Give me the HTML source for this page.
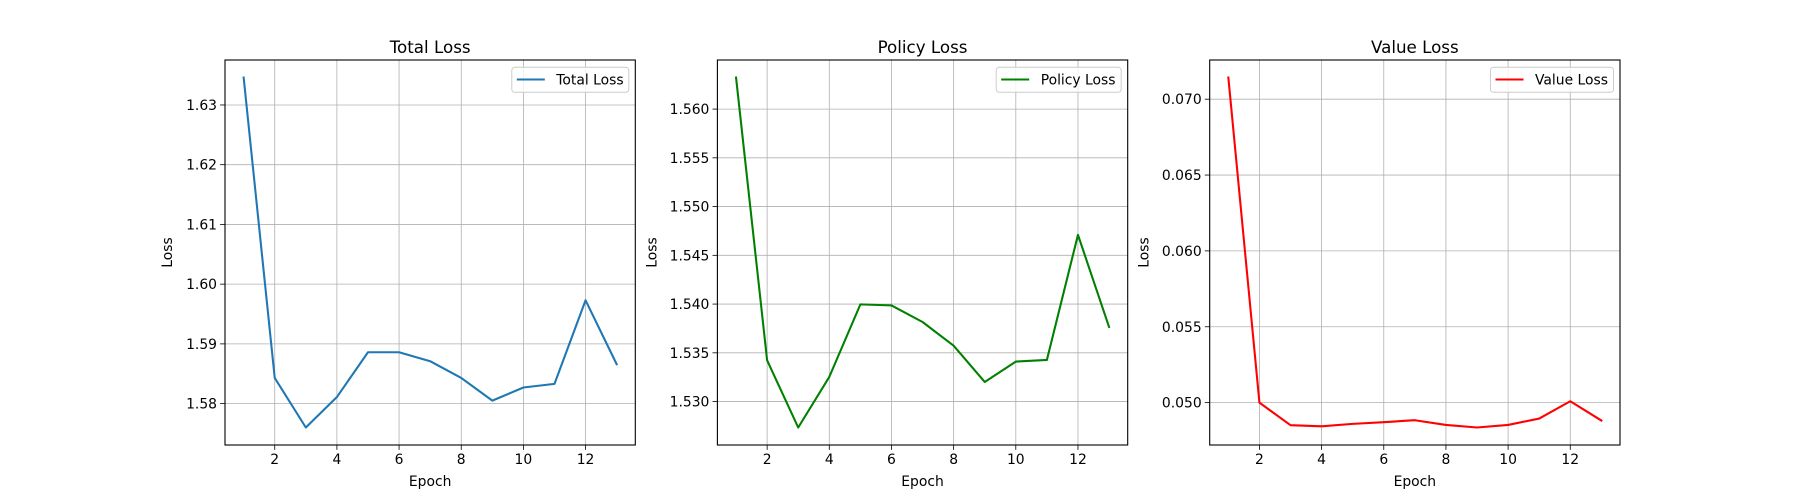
<!DOCTYPE html>
<html><head><meta charset="utf-8"><style>
html,body{margin:0;padding:0;background:#fff;}
svg{display:block;font-family:"DejaVu Sans","Liberation Sans",sans-serif;}
</style></head><body>
<svg id="fig" width="1800" height="500" viewBox="0 0 1800 500" xmlns="http://www.w3.org/2000/svg"></svg>
<script>
const epochs = [1,2,3,4,5,6,7,8,9,10,11,12,13];
const totalLoss = [1.6346,1.5843,1.5760,1.5811,1.5886,1.5886,1.5871,1.5843,1.5805,1.5827,1.5833,1.5973,1.5866];
const policyLoss = [1.56324,1.53423,1.52734,1.53253,1.53997,1.53986,1.53816,1.53573,1.53201,1.53410,1.53427,1.54710,1.53765];
const valueLoss = [0.07143,0.0500,0.04851,0.04844,0.04860,0.04871,0.04884,0.04853,0.04836,0.04853,0.04895,0.05009,0.04882];
const xTicks = [2,4,6,8,10,12];
const totalTicks = [1.58,1.59,1.60,1.61,1.62,1.63];
const policyTicks = [1.530,1.535,1.540,1.545,1.550,1.555,1.560];
const valueTicks = [0.050,0.055,0.060,0.065,0.070];
const titles = ["Total Loss","Policy Loss","Value Loss"];

const NS="http://www.w3.org/2000/svg";
const svg=document.getElementById('fig');
function mk(tag,attrs,parent){const e=document.createElementNS(NS,tag);for(const k in attrs)e.setAttribute(k,attrs[k]);(parent||svg).appendChild(e);return e;}

const panels=[
 {key:'total',data:totalLoss,ticks:totalTicks,dec:2,color:'#1f77b4',left:225,legW:117},
 {key:'policy',data:policyLoss,ticks:policyTicks,dec:3,color:'#008000',left:717.4,legW:125},
 {key:'value',data:valueLoss,ticks:valueTicks,dec:3,color:'#ff0000',left:1209.7,legW:123}
];
const W=410.3,axTop=60,axBot=445,H=axBot-axTop;

panels.forEach((p,i)=>{
  const g=mk('g',{});
  
  
  const xmin=Math.min(...epochs),xmax=Math.max(...epochs),xm=(xmax-xmin)*0.05;
  const ymin=Math.min(...p.data),ymax=Math.max(...p.data),ym=(ymax-ymin)*0.05;
  const X=v=>p.left+(v-(xmin-xm))/((xmax+xm)-(xmin-xm))*W;
  const Y=v=>axBot-(v-(ymin-ym))/((ymax+ym)-(ymin-ym))*H;
  xTicks.forEach(t=>{
    const l=mk('line',{x1:X(t),x2:X(t),y1:axTop,y2:axBot,stroke:'#b0b0b0','stroke-width':0.8},g);
    
    
    mk('line',{x1:X(t),x2:X(t),y1:axBot,y2:axBot+4.9,stroke:'#000','stroke-width':0.8},g);
    const tx=mk('text',{x:X(t),y:axBot+19,'font-size':13.9,'text-anchor':'middle',fill:'#000'},g);
    tx.textContent=t;
    
    
  });
  p.ticks.forEach(t=>{
    const l=mk('line',{x1:p.left,x2:p.left+W,y1:Y(t),y2:Y(t),stroke:'#b0b0b0','stroke-width':0.8},g);
    
    
    mk('line',{x1:p.left-4.9,x2:p.left,y1:Y(t),y2:Y(t),stroke:'#000','stroke-width':0.8},g);
    const tx=mk('text',{x:p.left-8,y:Y(t)+5,'font-size':13.9,'text-anchor':'end',fill:'#000'},g);
    tx.textContent=t.toFixed(p.dec);
    
    
  });
  const pts=epochs.map((e,j)=>X(e).toFixed(2)+','+Y(p.data[j]).toFixed(2)).join(' ');
  const pl=mk('polyline',{points:pts,fill:'none',stroke:p.color,'stroke-width':2.08,'stroke-linejoin':'round','stroke-linecap':'square'},g);
  
  
  const fr=mk('rect',{x:p.left,y:axTop,width:W,height:H,fill:'none',stroke:'#000','stroke-width':1.1},g);
  
  
  const ti=mk('text',{x:p.left+W/2,y:53,'font-size':16.7,'text-anchor':'middle',fill:'#000'},g);
  ti.textContent=titles[i];
  
  
  const xl=mk('text',{x:p.left+W/2,y:486,'font-size':13.9,'text-anchor':'middle',fill:'#000'},g);
  xl.textContent='Epoch';
  
  
  const yx=p.left-(i===0?53:61);
  const yl=mk('text',{x:yx,y:(axTop+axBot)/2,'font-size':13.9,'text-anchor':'middle',fill:'#000',transform:'rotate(-90 '+yx+' '+(axTop+axBot)/2+')'},g);
  yl.textContent='Loss';
  
  
  const lg=mk('g',{},g);
  
  
  const lx=p.left+W-6.5-p.legW;
  mk('rect',{x:lx,y:67.3,width:p.legW,height:25,rx:3,fill:'#fff','fill-opacity':0.8,stroke:'#cccccc','stroke-width':1},lg);
  mk('line',{x1:lx+5,x2:lx+33,y1:79.5,y2:79.5,stroke:p.color,'stroke-width':2.08},lg);
  const lt=mk('text',{x:lx+44.5,y:84.5,'font-size':13.9,fill:'#000'},lg);
  lt.textContent=titles[i];
  
  
});
</script>
</body></html>
